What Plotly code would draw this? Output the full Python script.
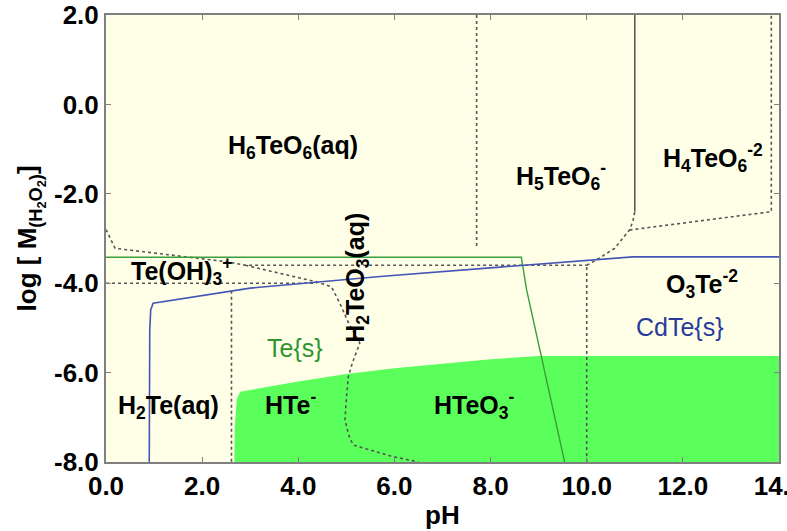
import plotly.graph_objects as go

# ---- data ----
ph_ticks = [0, 2, 4, 6, 8, 10, 12, 14]
ph_tick_labels = ["0.0", "2.0", "4.0", "6.0", "8.0", "10.0", "12.0", "14.0"]
logm_ticks = [2, 0, -2, -4, -6, -8]
logm_tick_labels = ["2.0", "0.0", "-2.0", "-4.0", "-6.0", "-8.0"]

# HTe- / HTeO3- predominance (green filled area)
fill_ph = [2.67, 2.68, 2.72, 2.79, 4.0, 5.0, 6.0, 7.0, 8.0, 9.0, 14.0, 14.0]
fill_logm = [-8.0, -7.2, -6.6, -6.43, -6.2, -6.03, -5.9, -5.8, -5.7, -5.63, -5.63, -8.0]

# Te{s} boundary (green line)
te_ph = [0.0, 8.64, 8.75, 9.54]
te_logm = [-3.42, -3.42, -4.15, -8.0]

# CdTe{s} boundary (blue line)
cdte_ph = [0.9, 0.91, 0.93, 0.98, 3.0, 5.7, 8.19, 10.96, 14.0]
cdte_logm = [-8.0, -5.05, -4.6, -4.45, -4.11, -3.85, -3.64, -3.41, -3.41]

# aqueous species boundaries (dotted)
b1_ph = [0.0, 0.19, 2.51, 2.9, 10.0]
b1_logm = [-2.8, -3.22, -3.52, -3.6, -3.6]
b2_ph = [2.9, 4.38, 4.69, 4.86, 5.05, 5.28, 5.12, 5.04, 5.0, 4.97, 5.05, 5.14, 5.97, 6.5]
b2_logm = [-3.6, -3.97, -4.08, -4.44, -4.9, -5.34, -5.8, -6.1, -6.6, -7.06, -7.4, -7.62, -7.88, -8.0]
b3_ph = [0.0, 4.38]
b3_logm = [-4.0, -4.0]
b4_ph = [2.61, 2.61]
b4_logm = [-4.17, -8.0]
b5_ph = [10.0, 10.0]
b5_logm = [-8.0, -3.6]
b6_ph = [10.0, 10.2, 10.58, 10.89, 10.96, 11.0]
b6_logm = [-3.6, -3.48, -3.22, -2.81, -2.62, -2.4]
b7_ph = [10.89, 13.84, 13.84]
b7_logm = [-2.81, -2.4, 2.0]
b8_ph = [7.71, 7.71]
b8_logm = [2.0, -3.18]
solid_ph = [11.0, 11.0]
solid_logm = [-2.4, 2.0]

labels = [
    ("<b>H<sub>6</sub>TeO<sub>6</sub>(aq)</b>", 3.9, -0.95, "black", 0),
    ("<b>H<sub>5</sub>TeO<sub>6</sub><sup>-</sup></b>", 9.46, -1.6, "black", 0),
    ("<b>H<sub>4</sub>TeO<sub>6</sub><sup>-2</sup></b>", 12.62, -1.2, "black", 0),
    ("<b>Te(OH)<sub>3</sub><sup>+</sup></b>", 1.57, -3.72, "black", 0),
    ("<b>H<sub>2</sub>TeO<sub>3</sub>(aq)</b>", 5.22, -3.88, "black", -90),
    ("<b>O<sub>3</sub>Te<sup>-2</sup></b>", 12.4, -4.02, "black", 0),
    ("CdTe{s}", 11.95, -4.97, "#2a3a9c", 0),
    ("Te{s}", 3.93, -5.45, "#2e952e", 0),
    ("<b>H<sub>2</sub>Te(aq)</b>", 1.31, -6.78, "black", 0),
    ("<b>HTe<sup>-</sup></b>", 3.83, -6.68, "black", 0),
    ("<b>HTeO<sub>3</sub><sup>-</sup></b>", 7.67, -6.72, "black", 0),
]

FONT = "Liberation Sans, Arial, sans-serif"
DOT = dict(color="#555555", width=1.6, dash="dot")

fig = go.Figure()
fig.add_trace(go.Scatter(x=fill_ph, y=fill_logm, mode="lines", fill="toself",
                         fillcolor="#5bff5b", line=dict(width=0), hoverinfo="skip"))
for xs, ys in [(b1_ph, b1_logm), (b2_ph, b2_logm), (b3_ph, b3_logm), (b4_ph, b4_logm),
               (b5_ph, b5_logm), (b6_ph, b6_logm), (b7_ph, b7_logm), (b8_ph, b8_logm)]:
    fig.add_trace(go.Scatter(x=xs, y=ys, mode="lines", line=DOT))
fig.add_trace(go.Scatter(x=solid_ph, y=solid_logm, mode="lines",
                         line=dict(color="#444444", width=1.4)))
fig.add_trace(go.Scatter(x=te_ph, y=te_logm, mode="lines",
                         line=dict(color="#3a9e3a", width=1.4)))
fig.add_trace(go.Scatter(x=cdte_ph, y=cdte_logm, mode="lines",
                         line=dict(color="#4455b5", width=1.6)))

for text, x, y, color, ang in labels:
    fig.add_annotation(x=x, y=y, text=text, showarrow=False, textangle=ang,
                       xanchor="center", yanchor="middle",
                       font=dict(family=FONT, size=25, color=color))

axis_common = dict(showgrid=False, zeroline=False, showline=True, linecolor="#808080",
                   linewidth=2, mirror="ticks", ticks="inside", ticklen=5,
                   tickcolor="#808080", tickwidth=1, ticklabeloverflow="allow",
                   automargin=False,
                   tickfont=dict(family=FONT, size=26, color="black", weight="bold"))

fig.update_xaxes(range=[0, 14], tickvals=ph_ticks, ticktext=ph_tick_labels, **axis_common)
fig.update_yaxes(range=[-8, 2], tickvals=logm_ticks, ticktext=logm_tick_labels, **axis_common)

fig.add_annotation(x=0.5, y=-0.119, xref="paper", yref="paper", text="<b>pH</b>",
                   showarrow=False, yanchor="middle",
                   font=dict(family=FONT, size=26, color="black"))
fig.add_annotation(x=-0.113, y=0.5, xref="paper", yref="paper",
                   text="<b>log [ M<sub>(H<sub>2</sub>O<sub>2</sub>)</sub>]</b>", textangle=-90,
                   showarrow=False, xanchor="center", yanchor="middle",
                   font=dict(family=FONT, size=26, color="black"))

fig.update_layout(width=787, height=531, showlegend=False,
                  margin=dict(l=106, r=8, t=15, b=69, autoexpand=False),
                  plot_bgcolor="#ffffe8", paper_bgcolor="white")

fig.write_html("out.html", config={"displayModeBar": False},
               post_script="document.body.style.margin='0';")
